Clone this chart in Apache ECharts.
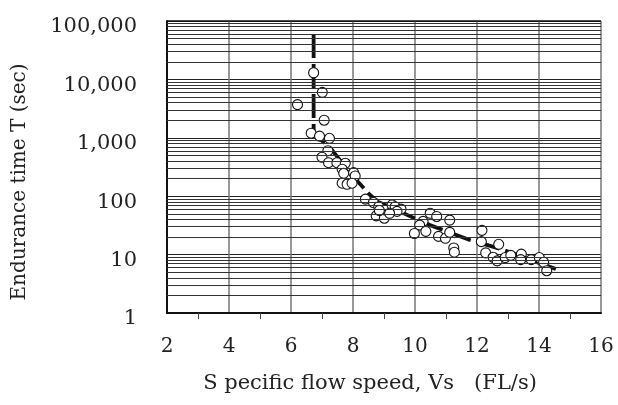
<!DOCTYPE html>
<html>
<head>
<meta charset="utf-8">
<script src="https://cdn.jsdelivr.net/npm/echarts@6/dist/echarts.min.js"></script>
<style>
html,body{margin:0;padding:0;background:#fff;}
#chart{width:618px;height:405px;}
</style>
</head>
<body>
<div id="chart"></div>
<script>
// Observed data: specific flow speed (FL/s) vs endurance time (sec)
const speeds = [6.73, 7.01, 6.21, 7.07, 6.65, 6.92, 7.24, 7.19, 7.00, 7.21, 7.48, 7.75, 7.65, 7.70, 8.02, 8.07, 7.65, 7.81, 7.97,
  8.40, 8.66, 8.83, 8.75, 9.01, 9.04, 9.26, 9.36, 9.55, 9.42, 8.85, 9.18,
  10.49, 10.70, 11.12, 10.26, 10.15, 9.98, 10.35, 10.76, 10.98, 11.12, 11.25, 11.27,
  12.16, 12.14, 12.28, 12.52, 12.70, 12.65, 12.91, 13.09, 13.43, 13.41, 13.75, 14.01, 14.15, 14.25];
const times = [13000, 6000, 3700, 2000, 1200, 1070, 980, 600, 465, 375, 375, 366, 290, 246, 253, 222, 167, 160, 167,
  89, 78, 66, 46, 42, 58, 71, 66, 60, 55, 57, 51,
  51, 45, 39, 37, 32, 23, 25, 20.5, 19, 24, 13, 11,
  26, 16.7, 10.7, 9.0, 15, 7.8, 8.9, 9.7, 10.2, 8.2, 8.2, 8.9, 7.4, 5.3];

// Fitted curve (dashed)
const fitSpeed = [6.73, 6.73, 7.32, 7.90, 8.55, 8.81, 10.48, 11.77, 12.80, 14.57];
const fitTime  = [60000, 1200, 620, 250, 105, 80, 32, 17.8, 12.3, 5.6];

// Axis settings
const xTicks = [2, 4, 6, 8, 10, 12, 14, 16];
const yDecades = [1, 10, 100, 1000, 10000, 100000];
const minorMultipliers = [2, 3, 4, 5, 6, 7, 8, 9];

const xTitle = 'S pecific flow speed, Vs   (FL/s)';
const yTitle = 'Endurance time T (sec)';

const minorLines = [];
yDecades.slice(0, -1).forEach(d => minorMultipliers.forEach(m => minorLines.push({ yAxis: d * m })));

const serif = '"DejaVu Serif", "Liberation Serif", serif';

const chart = echarts.init(document.getElementById('chart'), null, { renderer: 'canvas' });
chart.setOption({
  animation: false,
  backgroundColor: '#ffffff',
  grid: { left: 167, right: 17, top: 21, bottom: 92, show: false, containLabel: false, outerBoundsMode: 'none' },
  xAxis: {
    type: 'value',
    min: xTicks[0], max: xTicks[xTicks.length - 1], interval: 2,
    name: xTitle, nameLocation: 'middle', nameGap: 60,
    nameTextStyle: { fontFamily: serif, fontSize: 21, color: '#222', padding: [0, 28, 0, 0] },
    axisLine: { show: true, lineStyle: { color: '#111', width: 2 } },
    axisTick: { show: false },
    minorTick: { show: true, splitNumber: 2, length: 6, lineStyle: { color: '#444', width: 1 } },
    axisLabel: { fontFamily: serif, fontSize: 20, color: '#222', margin: 24 },
    splitLine: { show: true, lineStyle: { color: '#777', width: 1.5 } }
  },
  yAxis: {
    type: 'log', logBase: 10, min: 1, max: 100000,
    name: yTitle, nameLocation: 'middle', nameGap: 137, nameRotate: 90,
    nameTextStyle: { fontFamily: serif, fontSize: 20, color: '#222', padding: [0, 30, 0, 0] },
    axisLine: { show: true, lineStyle: { color: '#111', width: 2 } },
    axisTick: { show: false },
    axisLabel: {
      fontFamily: serif, fontSize: 21, color: '#222', margin: 30,
      verticalAlign: 'top', lineHeight: 12,
      formatter: v => Number(v).toLocaleString('en-US')
    },
    splitLine: { show: true, lineStyle: { color: '#222', width: 1.2 } }
  },
  series: [
    {
      type: 'line', data: [], z: 1, silent: true,
      markLine: {
        silent: true, symbol: ['none', 'none'],
        label: { show: false },
        lineStyle: { color: '#333', width: 1, type: 'solid' },
        data: minorLines
      }
    },
    {
      type: 'line', z: 3, silent: true,
      data: fitSpeed.map((v, i) => [v, fitTime[i]]),
      symbol: 'none',
      lineStyle: { color: '#111', width: 3.8, type: [24, 6] }
    },
    {
      type: 'scatter', z: 4,
      data: speeds.map((v, i) => [v, times[i]]),
      symbol: 'circle', symbolSize: 10,
      itemStyle: { color: '#fff', borderColor: '#111', borderWidth: 1.1, opacity: 1 }
    },
    {
      type: 'line', data: [], z: 5, silent: true,
      markLine: {
        silent: true, symbol: ['none', 'none'],
        label: { show: false },
        lineStyle: { color: '#111', width: 1.5, type: 'solid' },
        data: [{ yAxis: yDecades[yDecades.length - 1] }]
      }
    }
  ]
});
</script>
</body>
</html>
